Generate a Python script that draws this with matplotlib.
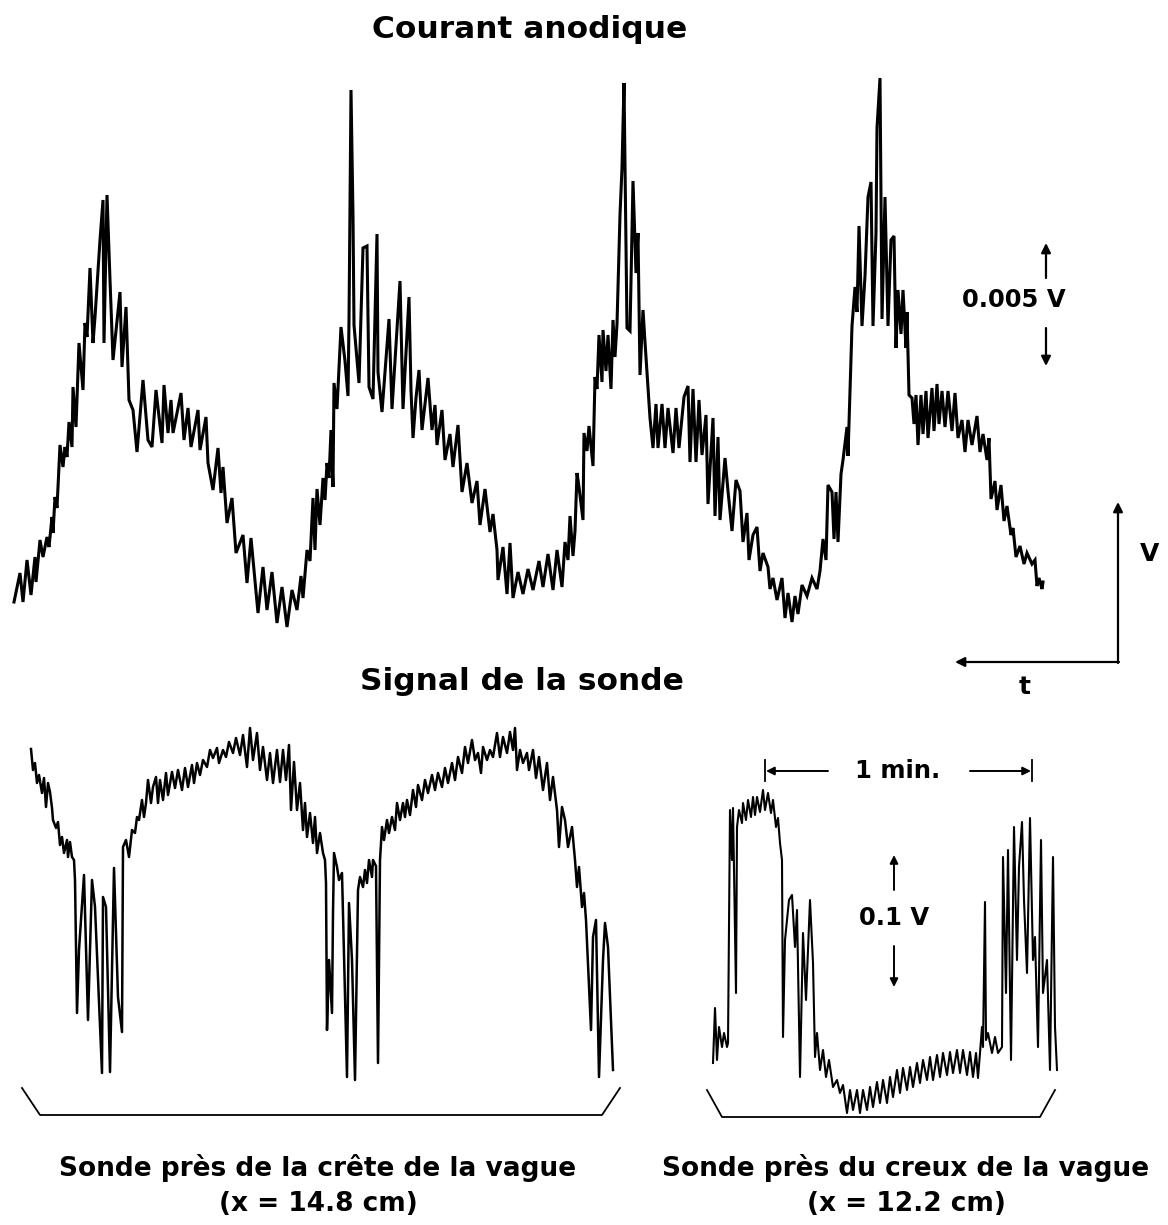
import numpy as np
import matplotlib.pyplot as plt

plt.rcParams['font.family'] = ['DejaVu Sans']
plt.rcParams['font.weight'] = 'bold'

# Chart-recorder readings: (time position, deflection), in chart units
anode_current = [
    (4, 38), (10, 67), (13, 38), (17, 80), (21, 45), (25, 83), (26, 58), (30, 100),
    (33, 83), (37, 103), (39, 93), (42, 123), (43, 107), (45, 143), (47, 132), (50, 195),
    (53, 173), (55, 193), (57, 183), (59, 218), (62, 193), (63, 253), (66, 213), (69, 297),
    (73, 250), (75, 317), (77, 303), (80, 372), (83, 297), (85, 323), (90, 400), (93, 440),
    (94, 297), (97, 445), (100, 360), (103, 280), (110, 348), (112, 273), (116, 333),
    (119, 240), (123, 230), (127, 188), (133, 260), (138, 200), (142, 193), (146, 250),
    (152, 197), (154, 255), (158, 207), (161, 240), (163, 207), (171, 247), (174, 200),
    (178, 232), (181, 193), (188, 230), (190, 190), (196, 223), (198, 177), (203, 150),
    (208, 192), (211, 147), (213, 173), (217, 117), (222, 142), (226, 87), (233, 105),
    (237, 57), (241, 102), (248, 27), (253, 73), (257, 30), (262, 68), (267, 17), (272, 53),
    (277, 13), (282, 50), (287, 30),
    (291, 64), (293, 42), (297, 90), (300, 79), (303, 142), (305, 90), (307, 151), (310, 115),
    (313, 162), (315, 140), (317, 177), (319, 162), (321, 210), (323, 153), (324, 257),
    (327, 231), (331, 313), (335, 279), (338, 244), (339, 319), (341, 550), (343, 424),
    (344, 315), (349, 257), (353, 392), (357, 394), (359, 253), (363, 241), (367, 406),
    (368, 268), (372, 228), (379, 321), (382, 231), (390, 359), (393, 231), (399, 343),
    (401, 250), (403, 202), (406, 242), (409, 270), (412, 210), (418, 262), (422, 210),
    (425, 235), (427, 195), (432, 230), (435, 180), (440, 206), (443, 173), (448, 215),
    (452, 148), (457, 177), (462, 137), (467, 159), (470, 115), (475, 151), (480, 108),
    (483, 126), (487, 90), (488, 60), (493, 93), (497, 46), (500, 97), (503, 42), (508, 68),
    (513, 46), (518, 71), (523, 50), (529, 79), (533, 53), (538, 86), (543, 50), (547, 90),
    (552, 53),
    (555, 98), (558, 80), (560, 124), (563, 84), (565, 109), (567, 167), (569, 153),
    (573, 120), (574, 207), (577, 189), (579, 214), (583, 174), (585, 263), (587, 251),
    (589, 305), (592, 258), (593, 310), (596, 269), (598, 305), (601, 251), (603, 320),
    (605, 283), (607, 316), (610, 425), (612, 472), (614, 557), (617, 312), (620, 309),
    (623, 459), (626, 367), (628, 407), (630, 265), (633, 330), (635, 298), (640, 222),
    (643, 192), (646, 236), (648, 192), (652, 236), (655, 192), (658, 232), (663, 187),
    (666, 232), (669, 192), (674, 243), (678, 254), (680, 178), (683, 251), (686, 178),
    (689, 240), (692, 185), (696, 225), (698, 136), (703, 222), (705, 124), (708, 203),
    (710, 120), (715, 182), (718, 149), (722, 109), (726, 160), (730, 149), (733, 98),
    (737, 127), (739, 80), (743, 105), (747, 113), (750, 69), (753, 87), (758, 73),
    (760, 51), (763, 62), (767, 40), (772, 62), (775, 22), (778, 47), (782, 18), (785, 44),
    (788, 26), (792, 55), (797, 44), (802, 62), (807, 51), (810, 69),
    (813, 101), (816, 80), (818, 155), (822, 148), (824, 101), (826, 148), (828, 98),
    (831, 166), (833, 180), (837, 213), (838, 184), (840, 249), (842, 314), (845, 353),
    (847, 328), (849, 414), (852, 314), (855, 364), (858, 443), (861, 458), (863, 314),
    (866, 407), (867, 512), (870, 562), (872, 321), (875, 443), (878, 314), (881, 400),
    (884, 404), (886, 292), (888, 350), (891, 306), (893, 350), (896, 292), (897, 328),
    (899, 245), (902, 242), (904, 216), (906, 245), (908, 195), (911, 245), (913, 206),
    (916, 249), (918, 202), (922, 252), (924, 209), (927, 256), (929, 216), (932, 249),
    (935, 213), (938, 249), (942, 209), (945, 247), (948, 202), (952, 220), (955, 188),
    (958, 220), (962, 195), (967, 224), (970, 188), (973, 206), (977, 180), (979, 202),
    (981, 141), (985, 159), (987, 130), (991, 155), (994, 119), (997, 134), (1001, 105),
    (1003, 112), (1006, 83), (1010, 94), (1014, 76), (1017, 87), (1022, 76), (1025, 80),
    (1027, 54), (1029, 62), (1032, 51), (1033, 58),
]

probe_crest = [
    (6, 341), (8, 320), (10, 327), (12, 307), (14, 315), (17, 297), (19, 312), (21, 283),
    (23, 307), (25, 298), (27, 282), (28, 270), (31, 262), (33, 268), (35, 245), (37, 253),
    (39, 237), (42, 250), (43, 233), (45, 248), (47, 233), (49, 230), (50, 210), (52, 77),
    (54, 140), (59, 215), (63, 70), (67, 210), (70, 183), (77, 17), (78, 193), (81, 183),
    (85, 18), (89, 222), (93, 93), (97, 58), (98, 243), (101, 250), (104, 233), (107, 260),
    (110, 257), (112, 273), (114, 270), (117, 290), (119, 273), (121, 287), (123, 310),
    (126, 287), (128, 303), (131, 313), (133, 287), (135, 310), (138, 290), (141, 317),
    (143, 295), (147, 318), (150, 302), (153, 320), (157, 300), (160, 322), (163, 303),
    (167, 325), (169, 307), (172, 327), (175, 315), (178, 330), (182, 323), (185, 340),
    (188, 332), (192, 342), (194, 327), (198, 340), (201, 333), (204, 348), (208, 337),
    (211, 352), (215, 335), (218, 355), (222, 323), (225, 362), (228, 330), (232, 357),
    (235, 320), (238, 343), (242, 310), (245, 337), (248, 307), (252, 340), (255, 308),
    (258, 340), (261, 310), (264, 345), (266, 280), (269, 328), (272, 280), (275, 307),
    (278, 260), (280, 287), (282, 253), (285, 277), (288, 247), (290, 273), (292, 237),
    (295, 257), (298, 237), (300, 230), (301, 207), (302, 60), (304, 130), (307, 77),
    (308, 177), (309, 237), (312, 223), (314, 210), (317, 217), (322, 13), (324, 187),
    (327, 130), (330, 10), (333, 200), (335, 213), (338, 203), (340, 220), (342, 207),
    (344, 230), (347, 213), (348, 230), (351, 224), (353, 27), (355, 230), (357, 263),
    (359, 250), (362, 270), (364, 257), (367, 273), (370, 260), (372, 287), (375, 270),
    (378, 287), (380, 273), (382, 290), (385, 275), (388, 300), (391, 283), (393, 305),
    (397, 290), (400, 310), (403, 297), (407, 315), (410, 300), (413, 317), (417, 303),
    (420, 322), (423, 307), (427, 327), (430, 310), (433, 333), (437, 317), (440, 343),
    (443, 327), (447, 350), (450, 330), (453, 337), (456, 317), (458, 343), (462, 330),
    (465, 340), (468, 333), (472, 357), (475, 333), (478, 353), (482, 337), (485, 358),
    (488, 340), (490, 362), (492, 320), (495, 340), (498, 327), (502, 337), (504, 320),
    (508, 340), (511, 312), (514, 333), (518, 300), (522, 327), (525, 290), (528, 313),
    (532, 280), (534, 243), (537, 283), (540, 270), (543, 243), (547, 263), (550, 230),
    (552, 203), (554, 223), (557, 183), (559, 197), (561, 170), (566, 60), (568, 153),
    (571, 170), (574, 13), (578, 130), (580, 167), (583, 143), (588, 20),
]

probe_trough = [
    (8, 62), (10, 117), (12, 65), (14, 98), (17, 78), (19, 92), (22, 78), (23, 82),
    (25, 315), (27, 265), (28, 317), (31, 132), (32, 298), (34, 315), (37, 302), (38, 322),
    (41, 305), (43, 325), (46, 308), (48, 328), (50, 310), (52, 328), (55, 313), (58, 335),
    (60, 315), (63, 332), (66, 312), (68, 325), (71, 298), (73, 307), (75, 282), (77, 265),
    (78, 88), (80, 185), (84, 225), (87, 230), (90, 178), (92, 215), (95, 48), (98, 192),
    (101, 125), (105, 225), (108, 162), (110, 68), (112, 92), (115, 55), (118, 75),
    (121, 48), (124, 65), (128, 38), (132, 45), (135, 32), (138, 40), (142, 12), (145, 35),
    (148, 15), (152, 35), (155, 12), (158, 35), (162, 15), (165, 38), (168, 18), (172, 43),
    (175, 22), (178, 45), (182, 22), (185, 48), (188, 28), (192, 55), (195, 32), (198, 57),
    (202, 35), (205, 58), (208, 38), (212, 62), (215, 42), (218, 65), (222, 45), (225, 68),
    (228, 45), (232, 70), (235, 48), (238, 72), (242, 50), (245, 73), (248, 52), (252, 75),
    (255, 52), (258, 75), (262, 50), (265, 73), (268, 48), (271, 72), (273, 47), (275, 72),
    (277, 98), (278, 78), (280, 223), (281, 85), (283, 92), (287, 72), (290, 88), (293, 72),
    (297, 78), (298, 268), (301, 132), (303, 275), (306, 65), (309, 298), (312, 165),
    (314, 258), (317, 303), (319, 225), (322, 152), (325, 307), (328, 165), (330, 188),
    (333, 78), (336, 285), (338, 132), (342, 165), (345, 55), (348, 268), (350, 98),
    (352, 55),
]

W, H = 1168, 1225
fig = plt.figure(figsize=(W / 100, H / 100), dpi=100)


def trace_axes(x0, y0, x1, y1):
    # axes box given in pixels from the top-left corner of the figure
    ax = fig.add_axes([x0 / W, 1 - y1 / H, (x1 - x0) / W, (y1 - y0) / H])
    ax.set_xlim(0, x1 - x0)
    ax.set_ylim(0, y1 - y0)
    ax.axis('off')
    return ax


ax1 = trace_axes(10, 60, 1060, 640)
t, v = np.array(anode_current).T
ax1.plot(t, v, color='black', lw=2.2, solid_joinstyle='miter')

ax2 = trace_axes(25, 715, 625, 1090)
t, v = np.array(probe_crest).T
ax2.plot(t, v, color='black', lw=1.8)

ax3 = trace_axes(705, 780, 1065, 1125)
t, v = np.array(probe_trough).T
ax3.plot(t, v, color='black', lw=1.5)

# overlay for titles, scale bars and brackets
ov = fig.add_axes([0, 0, 1, 1])
ov.set_xlim(0, W)
ov.set_ylim(H, 0)
ov.axis('off')
ov.patch.set_alpha(0)

ov.text(530, 30, 'Courant anodique', fontsize=22.5, ha='center', va='center')
ov.text(522, 681, 'Signal de la sonde', fontsize=22.5, ha='center', va='center')


def arrow(ax, tail, tip, lw=1.6, ms=14):
    ax.annotate('', xy=tip, xytext=tail,
                arrowprops=dict(arrowstyle='-|>', lw=lw, color='black',
                                mutation_scale=ms, shrinkA=0, shrinkB=0))


# 0.005 V scale
ov.text(1014, 300, '0.005 V', fontsize=17.5, ha='center', va='center')
arrow(ov, (1046, 278), (1046, 243))
arrow(ov, (1046, 328), (1046, 366))

# V / t direction axes
arrow(ov, (1118, 663), (1118, 502))
arrow(ov, (1119, 662), (955, 662))
ov.text(1150, 554, 'V', fontsize=18, ha='center', va='center')
ov.text(1025, 687, 't', fontsize=18, ha='center', va='center')

# 1 min scale
ov.text(898, 771, '1 min.', fontsize=17.5, ha='center', va='center')
ov.plot([765, 765], [760, 781], color='black', lw=1.3)
ov.plot([1032, 1032], [760, 781], color='black', lw=1.3)
arrow(ov, (828, 771), (766, 771), lw=1.4, ms=12)
arrow(ov, (970, 771), (1031, 771), lw=1.4, ms=12)

# 0.1 V scale
ov.text(894, 918, '0.1 V', fontsize=17.5, ha='center', va='center')
arrow(ov, (894, 890), (894, 855), lw=1.4, ms=12)
arrow(ov, (894, 946), (894, 987), lw=1.4, ms=12)

# brackets under the probe traces
ov.plot([22, 40, 602, 620], [1088, 1115, 1115, 1088], color='black', lw=1.3)
ov.plot([707, 722, 1040, 1055], [1090, 1117, 1117, 1090], color='black', lw=1.3)

ov.text(318, 1168, 'Sonde près de la crête de la vague', fontsize=19,
        ha='center', va='center')
ov.text(318, 1204, '(x = 14.8 cm)', fontsize=19, ha='center', va='center')
ov.text(906, 1168, 'Sonde près du creux de la vague', fontsize=19,
        ha='center', va='center')
ov.text(906, 1204, '(x = 12.2 cm)', fontsize=19, ha='center', va='center')

fig.savefig('out.png', dpi=100, facecolor='white')
